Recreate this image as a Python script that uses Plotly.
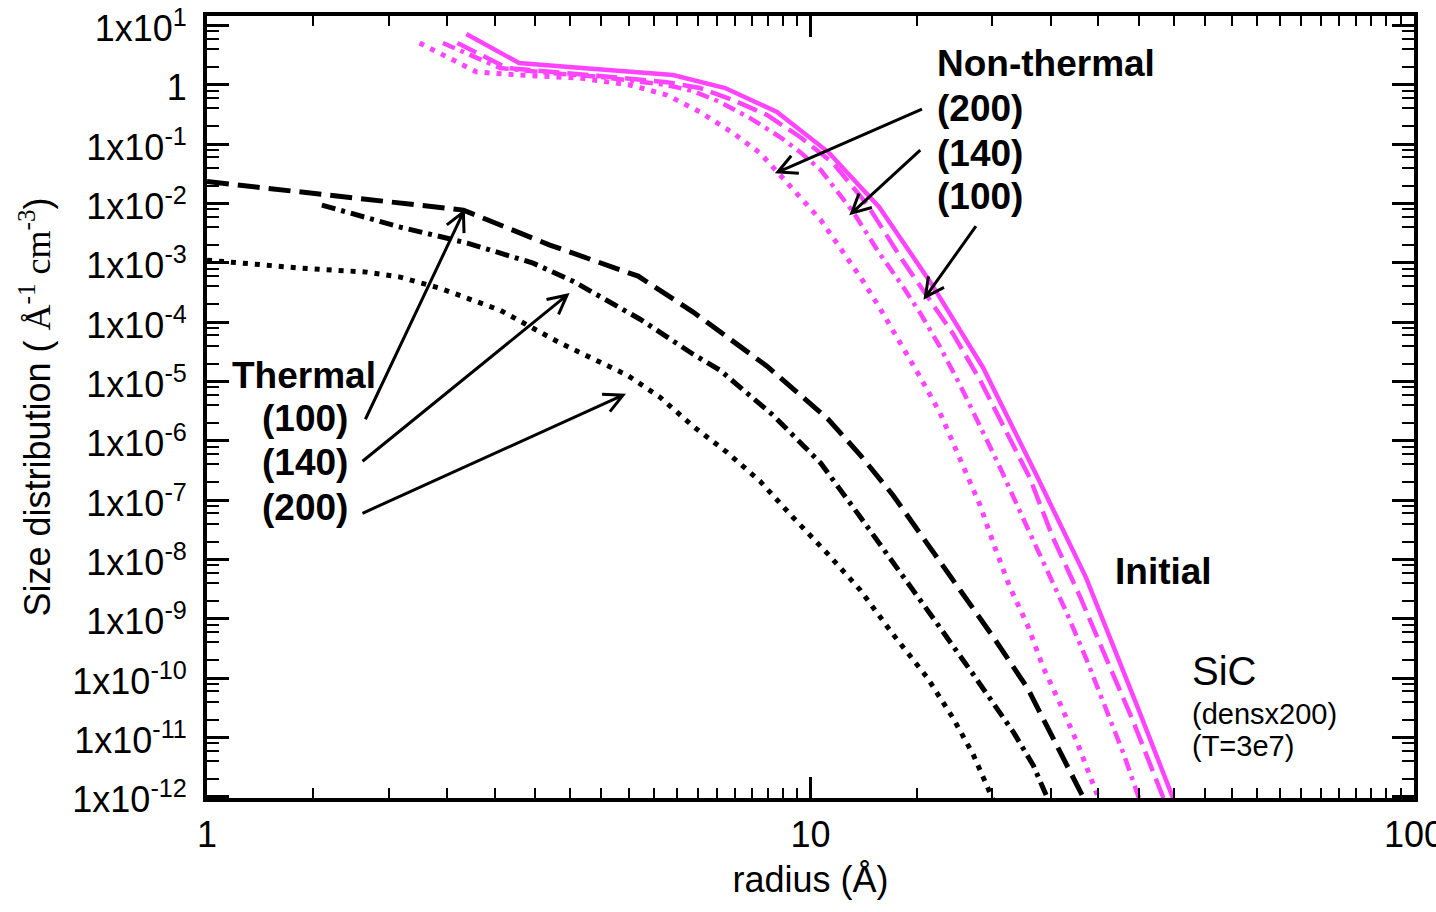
import math
import plotly.graph_objects as go

# ---- size distributions of SiC grains (radius in Å, dn/da in Å^-1 cm^-3) ----
initial_r = [2.69, 3.29, 3.98, 4.85, 5.92, 7.22, 8.80, 10.7, 13.0, 15.8, 19.3, 23.6, 28.6, 34.9, 42.5]
initial_n = [7.19, 2.33, 2.0, 1.71, 1.46, 0.883, 0.348, 0.0736, 8.69e-3, 4.72e-4, 1.74e-5,
             2.84e-7, 5.0e-9, 3.1e-11, 1.8e-13]

nonthermal100_r = [2.60, 3.14, 4.48, 5.78, 6.56, 7.44, 8.47, 9.61, 10.9, 12.4, 14.2, 17.2, 19.1,
                   21.0, 23.1, 25.2, 28.0, 31.0, 34.2, 38.4, 40.6]
nonthermal100_n = [5.07, 1.92, 1.41, 1.11, 0.883, 0.555, 0.310, 0.132, 0.048, 9.77e-3, 1.11e-3,
                   6.52e-5, 1.05e-5, 1.63e-6, 2.34e-7, 2.37e-8, 2.30e-9, 2.0e-10, 1.94e-11,
                   9.8e-13, 2.15e-13]

nonthermal140_r = [2.46, 3.06, 3.70, 4.48, 5.78, 6.39, 7.08, 7.94, 8.90, 9.61, 10.4, 11.8, 13.0,
                   14.1, 15.2, 16.4, 17.7, 19.1, 20.6, 22.5, 24.7, 26.6, 28.7, 31.0, 33.0, 34.8, 36.5]
nonthermal140_n = [5.07, 1.92, 1.58, 1.36, 0.993, 0.785, 0.513, 0.275, 0.132, 0.0736, 0.0366,
                   6.89e-3, 1.46e-3, 4.55e-4, 1.42e-4, 3.79e-5, 8.67e-6, 1.83e-6, 3.59e-7,
                   4.95e-8, 6.58e-9, 1.24e-9, 2.0e-10, 2.55e-11, 5.40e-12, 1.14e-12, 3.17e-13]

nonthermal200_r = [2.25, 2.80, 3.30, 4.15, 5.02, 5.78, 6.56, 7.44, 8.25, 8.83, 9.61, 10.4, 11.2,
                   12.1, 13.0, 14.1, 15.2, 16.4, 17.7, 19.1, 20.2, 21.4, 22.9, 24.3, 25.9, 27.7,
                   29.8, 31.4]
nonthermal200_n = [5.07, 1.64, 1.46, 1.30, 0.993, 0.673, 0.348, 0.154, 0.0708, 0.0339, 0.0128,
                   5.25e-3, 1.84e-3, 5.74e-4, 1.79e-4, 4.43e-5, 1.18e-5, 2.92e-6, 5.09e-7,
                   8.20e-8, 1.61e-8, 3.40e-9, 7.76e-10, 1.52e-10, 3.76e-11, 7.94e-12, 1.14e-12,
                   2.93e-13]

thermal100_r = [1.0, 2.66, 3.70, 5.18, 6.39, 8.47, 10.7, 12.1, 13.7, 15.6, 17.7, 20.1, 22.9,
                25.9, 28.2, 29.6]
thermal100_n = [0.0234, 7.74e-3, 1.99e-3, 5.97e-4, 1.48e-4, 1.81e-5, 2.31e-6, 5.70e-7, 1.21e-7,
                1.87e-8, 3.02e-9, 4.88e-10, 6.73e-11, 6.05e-12, 1.06e-12, 3.30e-13]

thermal140_r = [1.55, 2.09, 2.70, 3.47, 4.04, 5.22, 6.39, 7.08, 8.67, 10.4, 12.1, 14.1, 16.2,
                18.6, 21.7, 23.4, 24.7, 25.7]
thermal140_n = [9.40e-3, 4.00e-3, 2.15e-3, 9.89e-4, 4.91e-4, 1.12e-4, 2.88e-5, 1.55e-5, 2.70e-6,
                4.19e-7, 5.15e-8, 6.08e-9, 8.39e-10, 1.16e-10, 1.22e-11, 3.38e-12, 9.77e-13,
                3.70e-13]

thermal200_r = [1.0, 1.43, 1.84, 2.09, 2.43, 3.06, 3.85, 4.97, 5.63, 6.39, 7.27, 8.25, 9.35,
                10.7, 12.1, 13.7, 15.6, 17.2, 18.6, 19.8, 20.6]
thermal200_n = [1.11e-3, 8.15e-4, 6.97e-4, 5.74e-4, 3.74e-4, 1.59e-4, 4.43e-5, 1.28e-5, 5.43e-6,
                1.76e-6, 6.41e-7, 2.08e-7, 5.15e-8, 1.22e-8, 3.02e-9, 5.48e-10, 1.03e-10,
                2.18e-11, 5.19e-12, 1.28e-12, 4.85e-13]

# ---- axis ticks ----
y_tick_vals = [10.0 ** e for e in range(1, -13, -1)]
y_tick_text = ["1x10<sup>1</sup>", "1"] + [f"1x10<sup>{e}</sup>" for e in range(-1, -13, -1)]
x_tick_vals = [1, 10, 100]
x_tick_text = ["1", "10", "100"]

MAGENTA = "#ff44ff"
BLACK = "#000000"
FONT = "Liberation Sans, Arial, Helvetica, sans-serif"

X_RANGE = (0.0, 2.0)
Y_RANGE = (-12.02, 1.16)
MARGIN = dict(l=207, r=22, t=16, b=114)
WIDTH, HEIGHT = 1436, 912
PLOT_W = WIDTH - MARGIN["l"] - MARGIN["r"]
PLOT_H = HEIGHT - MARGIN["t"] - MARGIN["b"]

fig = go.Figure()

series = [
    (thermal200_r, thermal200_n, BLACK, 5, "5px,7px"),
    (thermal140_r, thermal140_n, BLACK, 5, "14px,6px,4px,6px"),
    (thermal100_r, thermal100_n, BLACK, 5, "22px,9px"),
    (nonthermal200_r, nonthermal200_n, MAGENTA, 5, "5px,7px"),
    (nonthermal140_r, nonthermal140_n, MAGENTA, 4.5, "13px,6px,4px,6px"),
    (nonthermal100_r, nonthermal100_n, MAGENTA, 4.5, "21px,8px"),
    (initial_r, initial_n, MAGENTA, 4.5, "solid"),
]
for r, n, color, width, dash in series:
    fig.add_trace(go.Scatter(x=r, y=n, mode="lines", hoverinfo="skip",
                             line=dict(color=color, width=width, dash=dash)))


def to_frac(r, v):
    fx = (math.log10(r) - X_RANGE[0]) / (X_RANGE[1] - X_RANGE[0])
    fy = (math.log10(v) - Y_RANGE[0]) / (Y_RANGE[1] - Y_RANGE[0])
    return fx, fy


def arrow_path(tail, tip, head=21.0, spread=math.radians(27)):
    """Straight arrow with an open V head, returned as an SVG path in paper units."""
    tx, ty = to_frac(*tail)
    hx, hy = to_frac(*tip)
    x0, y0 = tx * PLOT_W, ty * PLOT_H
    x1, y1 = hx * PLOT_W, hy * PLOT_H
    back = math.atan2(y0 - y1, x0 - x1)
    arms = []
    for a in (back + spread, back - spread):
        arms.append(((x1 + head * math.cos(a)) / PLOT_W, (y1 + head * math.sin(a)) / PLOT_H))
    return (f"M{tx:.5f},{ty:.5f} L{hx:.5f},{hy:.5f} "
            f"M{arms[0][0]:.5f},{arms[0][1]:.5f} L{hx:.5f},{hy:.5f} L{arms[1][0]:.5f},{arms[1][1]:.5f}")


# arrows: (tail radius, tail value) -> (tip radius, tip value)
arrows = [
    ((15.3, 0.391), (8.83, 0.0339)),
    ((15.2, 0.0795), (11.7, 6.89e-3)),
    ((18.8, 4.16e-3), (15.5, 2.64e-4)),
    ((1.83, 2.31e-6), (2.66, 7.16e-3)),
    ((1.81, 4.53e-7), (3.95, 2.85e-4)),
    ((1.81, 6.01e-8), (4.89, 5.87e-6)),
]
for tail, tip in arrows:
    fig.add_shape(type="path", path=arrow_path(tail, tip), xref="paper", yref="paper",
                  line=dict(color=BLACK, width=3))

# text labels: (text, radius, value, size, bold)
labels = [
    ("Non-thermal", 16.1, 2.33, 37, True),
    ("(200)", 16.1, 0.406, 37, True),
    ("(140)", 16.1, 0.0708, 37, True),
    ("(100)", 16.1, 0.01334, 37, True),
    ("Thermal", 1.092, 1.25e-5, 37, True),
    ("(100)", 1.224, 2.35e-6, 37, True),
    ("(140)", 1.224, 4.25e-7, 37, True),
    ("(200)", 1.224, 7.4e-8, 37, True),
    ("Initial", 31.7, 6.32e-9, 37, True),
    ("SiC", 42.55, 1.30e-10, 40, False),
    ("(densx200)", 42.55, 2.45e-11, 29, False),
    ("(T=3e7)", 42.55, 7.08e-12, 29, False),
]
for text, r, v, size, bold in labels:
    fig.add_annotation(x=math.log10(r), y=math.log10(v), xref="x", yref="y",
                       text=f"<b>{text}</b>" if bold else text, showarrow=False,
                       xanchor="left", yanchor="middle",
                       font=dict(family=FONT, size=size, color=BLACK))

x_minor = [1 + 0.5 * k for k in range(1, 18)] + [10 + 5 * k for k in range(1, 18)]
y_minor = [m * 10.0 ** e for e in range(-12, 1) for m in (2, 4, 6, 8)]

fig.update_layout(
    width=WIDTH, height=HEIGHT, margin=MARGIN,
    plot_bgcolor="white", paper_bgcolor="white", showlegend=False,
    font=dict(family=FONT, color=BLACK),
    xaxis=dict(
        type="log", range=list(X_RANGE), showgrid=False, zeroline=False, automargin=False,
        showline=True, linecolor=BLACK, linewidth=4, mirror="allticks",
        ticks="inside", ticklen=21, tickwidth=3, tickcolor=BLACK,
        tickmode="array", tickvals=x_tick_vals, ticktext=x_tick_text,
        tickfont=dict(family=FONT, size=36, color=BLACK), ticklabelstandoff=2,
        ticklabeloverflow="allow",
        minor=dict(tickmode="array", tickvals=x_minor, ticks="inside", ticklen=10,
                   tickwidth=2, tickcolor=BLACK, showgrid=False),
        title=dict(text="radius (Å)", font=dict(family=FONT, size=36, color=BLACK), standoff=14),
    ),
    yaxis=dict(
        type="log", range=list(Y_RANGE), showgrid=False, zeroline=False, automargin=False,
        showline=True, linecolor=BLACK, linewidth=4, mirror="allticks",
        ticks="inside", ticklen=22, tickwidth=3, tickcolor=BLACK,
        tickmode="array", tickvals=y_tick_vals, ticktext=y_tick_text,
        tickfont=dict(family=FONT, size=36, color=BLACK), ticklabelstandoff=9,
        ticklabelshift=3, ticklabeloverflow="allow",
        minor=dict(tickmode="array", tickvals=y_minor, ticks="inside", ticklen=12,
                   tickwidth=2, tickcolor=BLACK, showgrid=False),
        title=dict(
            text="Size distribution ( <span style='font-family:\"Liberation Serif\", \"Times New Roman\", serif'>"
                 "Å<sup>-1</sup> cm<sup>-3</sup></span>)",
            font=dict(family=FONT, size=36, color=BLACK), standoff=12),
    ),
)

fig.write_html("out.html")
